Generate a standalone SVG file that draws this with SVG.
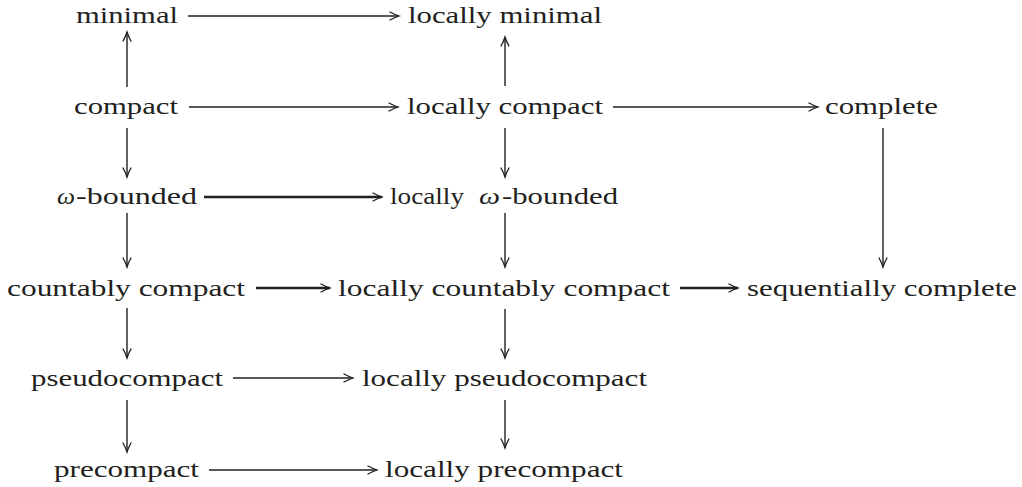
<svg xmlns="http://www.w3.org/2000/svg" width="1022" height="487" viewBox="0 0 1022 487">
<style>
.w{font-style:italic}
.c line{stroke:#231f20;stroke-width:1.4;fill:none;marker-end:url(#ah)}
.c line.t{stroke-width:2.6}
</style>
<defs>
<marker id="ah" markerUnits="userSpaceOnUse" viewBox="-11 -6 13 12" refX="0" refY="0" markerWidth="13" markerHeight="12" orient="auto" overflow="visible">
<path d="M-9.5,-4.2 Q-4,-1.2 0,0 Q-4,1.2 -9.5,4.2" fill="none" stroke="#231f20" stroke-width="1.3"/>
</marker>
</defs>
<rect width="1022" height="487" fill="#fff"/>
<g font-family="'Liberation Serif', 'DejaVu Serif', serif" font-size="23" fill="#231f20">
<g id="n-minimal"><text x="76" y="23" textLength="102" lengthAdjust="spacingAndGlyphs">minimal</text></g>
<g id="n-locally-minimal"><text x="408" y="23" textLength="194" lengthAdjust="spacingAndGlyphs">locally minimal</text></g>
<g id="n-compact"><text x="74" y="114" textLength="104" lengthAdjust="spacingAndGlyphs">compact</text></g>
<g id="n-locally-compact"><text x="407" y="114" textLength="196" lengthAdjust="spacingAndGlyphs">locally compact</text></g>
<g id="n-complete"><text x="825" y="114" textLength="113" lengthAdjust="spacingAndGlyphs">complete</text></g>
<g id="n-omega-bounded"><text class="w" x="57" y="204" textLength="18" lengthAdjust="spacingAndGlyphs">ω</text><text x="76" y="204" textLength="121" lengthAdjust="spacingAndGlyphs">-bounded</text></g>
<g id="n-locally-omega-bounded"><text x="390" y="204" textLength="74" lengthAdjust="spacingAndGlyphs">locally</text><text class="w" x="479" y="204" textLength="21" lengthAdjust="spacingAndGlyphs">ω</text><text x="502" y="204" textLength="116" lengthAdjust="spacingAndGlyphs">-bounded</text></g>
<g id="n-countably-compact"><text x="7" y="296" textLength="238" lengthAdjust="spacingAndGlyphs">countably compact</text></g>
<g id="n-locally-countably-compact"><text x="338" y="296" textLength="332" lengthAdjust="spacingAndGlyphs">locally countably compact</text></g>
<g id="n-sequentially-complete"><text x="747" y="296" textLength="270" lengthAdjust="spacingAndGlyphs">sequentially complete</text></g>
<g id="n-pseudocompact"><text x="31" y="386" textLength="192" lengthAdjust="spacingAndGlyphs">pseudocompact</text></g>
<g id="n-locally-pseudocompact"><text x="362" y="386" textLength="285" lengthAdjust="spacingAndGlyphs">locally pseudocompact</text></g>
<g id="n-precompact"><text x="54" y="477" textLength="145" lengthAdjust="spacingAndGlyphs">precompact</text></g>
<g id="n-locally-precompact"><text x="385" y="477" textLength="238" lengthAdjust="spacingAndGlyphs">locally precompact</text></g>
</g>
<g id="connectors" class="c">
<line x1="188" y1="16" x2="399" y2="16"/>
<line x1="189" y1="107" x2="398" y2="107"/>
<line x1="613" y1="107" x2="818" y2="107"/>
<line class="t" x1="204" y1="197" x2="382" y2="197"/>
<line class="t" x1="256" y1="288" x2="330" y2="288"/>
<line class="t" x1="680" y1="288" x2="738" y2="288"/>
<line x1="233" y1="378" x2="353" y2="378"/>
<line x1="209" y1="470" x2="377" y2="470"/>
<line x1="127" y1="87" x2="127" y2="32"/>
<line x1="127" y1="128" x2="127" y2="177"/>
<line x1="127" y1="213" x2="127" y2="267"/>
<line x1="127" y1="308" x2="127" y2="358"/>
<line x1="127" y1="400" x2="127" y2="452"/>
<line x1="505" y1="86" x2="505" y2="37"/>
<line x1="505" y1="128" x2="505" y2="177"/>
<line x1="505" y1="213" x2="505" y2="267"/>
<line x1="505" y1="309" x2="505" y2="358"/>
<line x1="505" y1="400" x2="505" y2="448"/>
<line x1="883" y1="128" x2="883" y2="267"/>
</g>
</svg>
